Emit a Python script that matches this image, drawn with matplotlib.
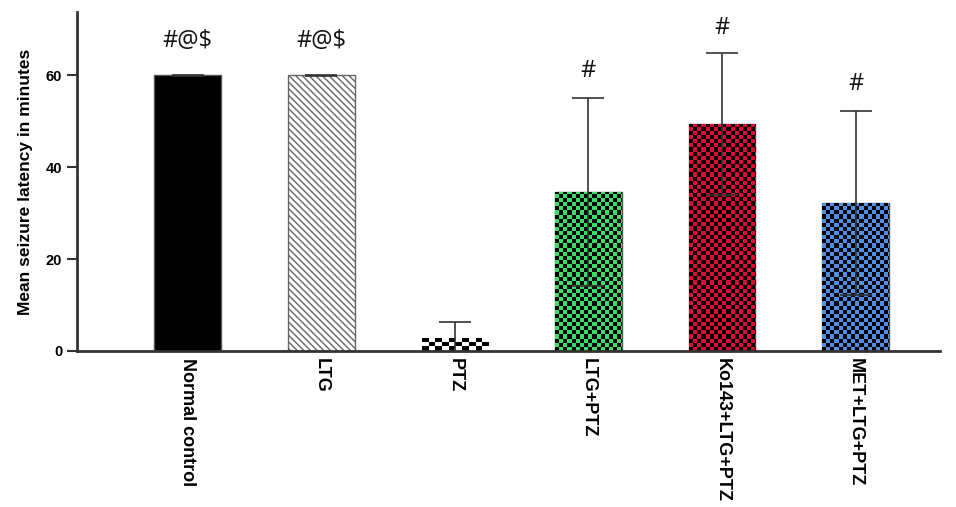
import numpy as np
import matplotlib
matplotlib.use("Agg")
import matplotlib.pyplot as plt

# data
groups = ["Normal control", "LTG", "PTZ", "LTG+PTZ", "Ko143+LTG+PTZ", "MET+LTG+PTZ"]
means = [60.0, 60.0, 2.8, 34.6, 49.4, 32.2]
sds = [0.15, 0.15, 3.5, 20.4, 15.4, 20.0]
marks = ["#@$", "#@$", "", "#", "#", "#"]
mark_y = [67.5, 67.5, 0, 61.0, 70.3, 58.2]

fills = ["black", "white", "white", "#3ddc68", "#dc0a37", "#4f8fe6"]
styles = ["solid", "hatch", "checker_big", "checker", "checker", "checker"]

fig = plt.figure(figsize=(9.56, 5.07), dpi=100)
ax = fig.add_axes([0.0805, 0.3077, 0.9025, 0.668])

x = np.arange(len(groups))
bars = ax.bar(x, means, width=0.5, color=fills, edgecolor="#555555", linewidth=1.0, zorder=2)
bars[1].set_hatch("\\\\\\\\\\")
bars[1].set_edgecolor("#666666")
bars[2].set_edgecolor("none")

ax.set_xlim(-0.83, 5.63)
ax.set_ylim(0, 73.7)

# checkerboard fill, clipped to each bar
for b, st, col in zip(bars, styles, fills):
    if not st.startswith("checker"):
        continue
    x0, w, h = b.get_x(), b.get_width(), b.get_height()
    if st == "checker_big":
        dx, dy = 0.05, 1.0
    else:
        dx, dy = 0.031, 0.9
    nx = int(np.ceil(w / dx)) + 1
    ny = int(np.ceil(h / dy)) + 1
    cb = (np.indices((ny, nx)).sum(axis=0) % 2).astype(float)
    base = np.array(matplotlib.colors.to_rgb(col))
    img = np.zeros((ny, nx, 3))
    img[cb == 1] = base
    im = ax.imshow(img, extent=(x0, x0 + nx * dx, 0, ny * dy), origin="lower",
                   aspect="auto", interpolation="nearest", zorder=2.5)
    im.set_clip_path(b)

ax.set_xlim(-0.83, 5.63)
ax.set_ylim(0, 73.7)

ax.errorbar(x, means, yerr=sds, fmt="none", ecolor="#333333", elinewidth=1.2,
            capsize=11.5, capthick=1.2, zorder=3)

for xi, m, my in zip(x, marks, mark_y):
    if m:
        ax.text(xi, my, m, ha="center", va="center", fontsize=17,
                family="Open Sans", color="#111111")

ax.spines["top"].set_visible(False)
ax.spines["right"].set_visible(False)
for s in ["left", "bottom"]:
    ax.spines[s].set_linewidth(2)
    ax.spines[s].set_color("#333333")

ax.set_yticks([0, 20, 40, 60])
ax.tick_params(axis="y", length=7, width=1.5, color="#333333", labelsize=10.5)
ax.tick_params(axis="x", length=0, pad=5)
ax.set_xticks(x)
ax.set_xticklabels(groups, rotation=270, fontsize=13, fontweight="bold",
                   family="Liberation Sans", va="top", ha="center")
for t in ax.get_yticklabels():
    t.set_fontweight("bold")
    t.set_family("Liberation Sans")
ax.set_ylabel("Mean seizure latency in minutes", fontsize=12.5, fontweight="bold",
              family="Liberation Sans", labelpad=9)

fig.savefig("out.png", dpi=100)
